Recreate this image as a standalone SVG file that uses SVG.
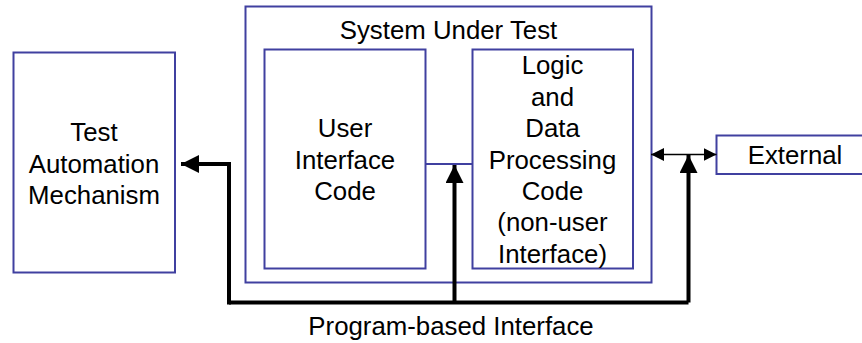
<svg xmlns="http://www.w3.org/2000/svg" width="862" height="343" viewBox="0 0 862 343">
<style>
.box{fill:#fff;stroke:#4040a0;stroke-width:2}
.t{font-family:"Liberation Sans",Arial,sans-serif;font-size:25.8px;fill:#000;text-anchor:middle}
.bus{fill:none;stroke:#000;stroke-width:4;stroke-linejoin:miter}
.thin{fill:none;stroke:#000;stroke-width:1.6}
</style>
<defs>
<marker id="big" markerUnits="userSpaceOnUse" markerWidth="20" markerHeight="20" refX="18" refY="9" orient="auto">
<path d="M0,0 L18,9 L0,18 Z" fill="#000"/>
</marker>
<marker id="small" markerUnits="userSpaceOnUse" markerWidth="14" markerHeight="14" refX="13" refY="6.5" orient="auto-start-reverse">
<path d="M0,0 L13,6.5 L0,13 Z" fill="#000"/>
</marker>
</defs>
<g id="tam">
<rect class="box" x="13.5" y="52.5" width="161.5" height="220"/>
<text class="t" x="94" y="141">Test</text>
<text class="t" x="94" y="173">Automation</text>
<text class="t" x="94" y="204">Mechanism</text>
</g>
<g id="sut">
<rect class="box" x="245.5" y="6.5" width="406" height="276"/>
<text class="t" x="448.5" y="38.5">System Under Test</text>
</g>
<g id="ui">
<rect class="box" x="264.5" y="49.5" width="161" height="219"/>
<text class="t" x="345" y="137">User</text>
<text class="t" x="345" y="168.5">Interface</text>
<text class="t" x="345" y="200">Code</text>
</g>
<g id="logic">
<rect class="box" x="472.5" y="49.5" width="160.5" height="219"/>
<text class="t" x="552.5" y="74">Logic</text>
<text class="t" x="552.5" y="105.5">and</text>
<text class="t" x="552.5" y="137">Data</text>
<text class="t" x="552.5" y="168.5">Processing</text>
<text class="t" x="552.5" y="200">Code</text>
<text class="t" x="552.5" y="231">(non-user</text>
<text class="t" x="552.5" y="262.5">Interface)</text>
</g>
<g id="external">
<rect class="box" x="716.5" y="135.5" width="160" height="38.5"/>
<text class="t" x="795" y="163.5">External</text>
</g>
<g id="connectors">
<line x1="425.5" y1="164" x2="472.5" y2="164" stroke="#4040a0" stroke-width="2"/>
<path class="bus" d="M229,302.5 H688.5"/>
<path class="bus" d="M229,304.5 V164 H181" marker-end="url(#big)"/>
<path class="bus" d="M454.5,302.5 V165" marker-end="url(#big)"/>
<path class="bus" d="M688.5,302.5 V155" marker-end="url(#big)"/>
<line class="thin" x1="651" y1="154.5" x2="716.5" y2="154.5" marker-start="url(#small)" marker-end="url(#small)"/>
</g>
<text class="t" x="451" y="335">Program-based Interface</text>
</svg>
